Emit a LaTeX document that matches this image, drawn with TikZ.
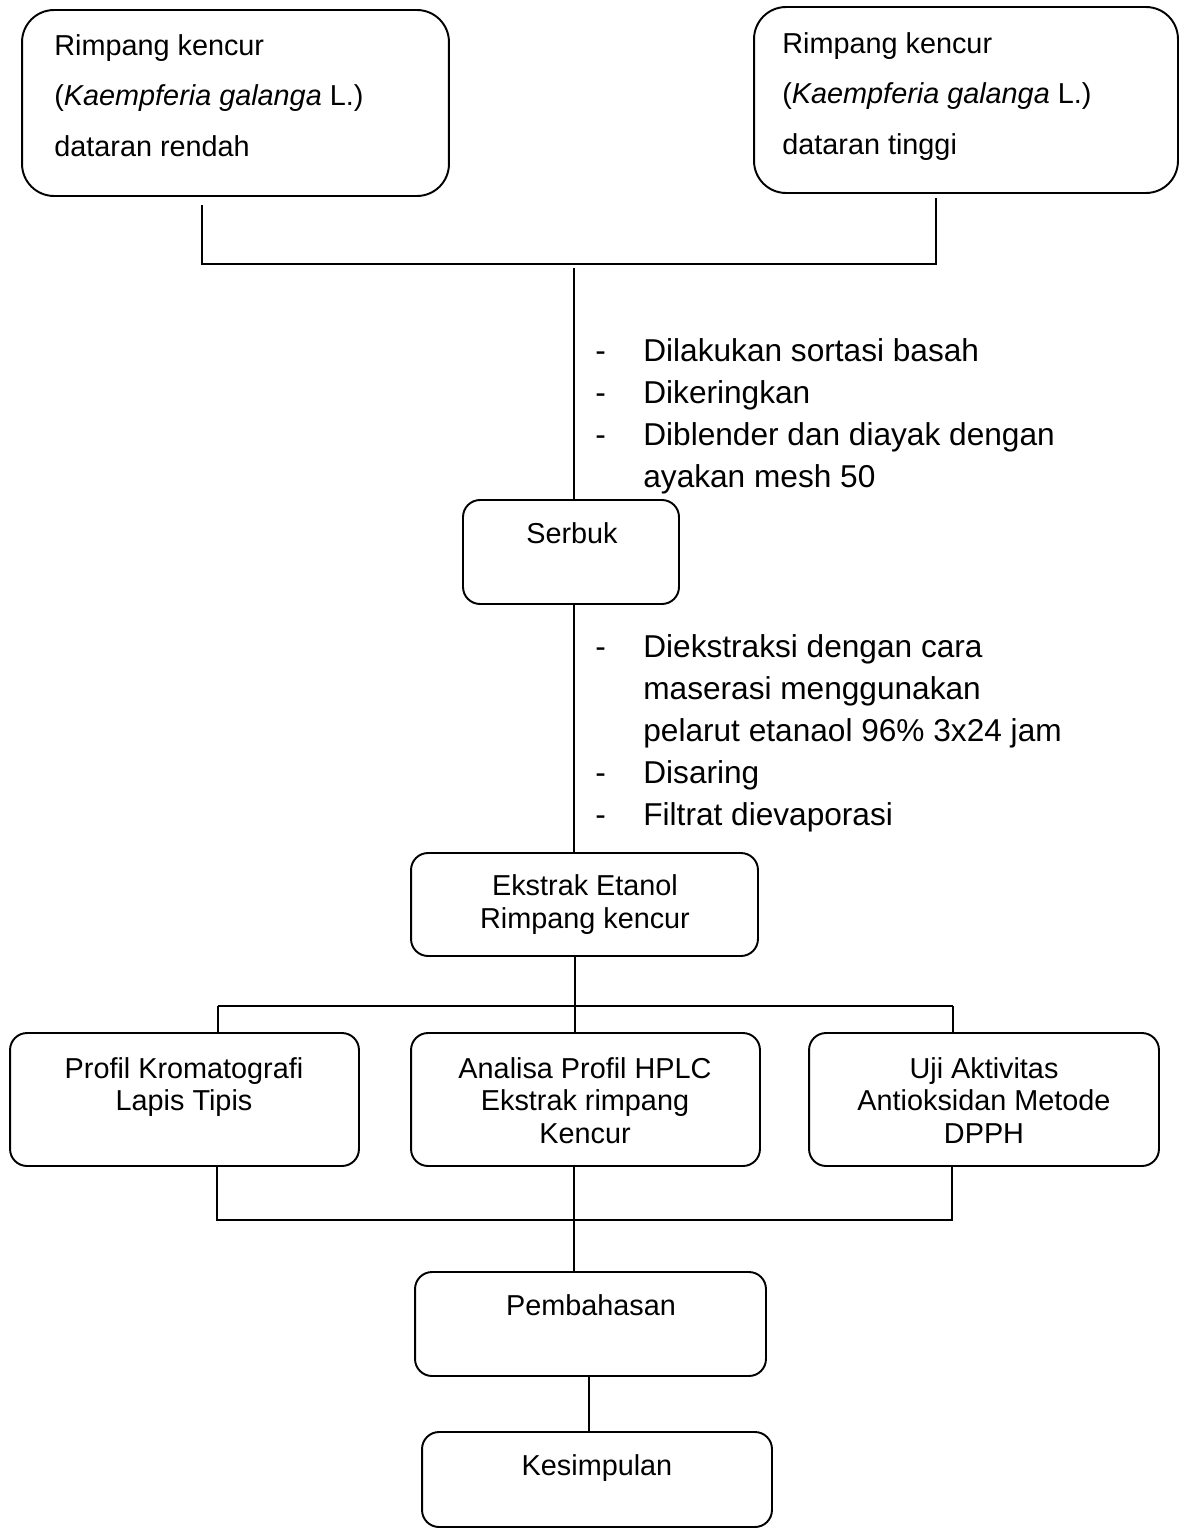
\documentclass[tikz,border=0pt]{standalone}
\usepackage{fontspec}
\setmainfont{Liberation Sans}
\usepackage{tikz}

\tikzset{
  roundbox/.style={draw, line width=1.1pt, rounded corners=0.34cm, inner sep=0pt},
  boxtxt/.style={font=\fontsize{16.4}{20}\selectfont, inner sep=0pt, anchor=base},
  steptxt/.style={font=\fontsize{18}{22}\selectfont, inner sep=0pt, anchor=base west},
  link/.style={line width=1pt}
}

\begin{document}
\begin{tikzpicture}[x=0.02cm, y=-0.02cm]
\useasboundingbox (0,0) rectangle (1181,1528);

% Bahan awal
\node[roundbox, rounded corners=0.64cm, minimum width=8.54cm, minimum height=3.72cm] (rendah) at (235.5,103) {};
\node[roundbox, rounded corners=0.64cm, minimum width=8.48cm, minimum height=3.72cm] (tinggi) at (966,100) {};
\foreach \txt [count=\i] in {Rimpang kencur, {(\textit{Kaempferia galanga} L.)}, dataran rendah} {
    \node[boxtxt, anchor=base west] (rendah\i) at (54,{55+50.5*(\i-1)}) {\txt};
}
\foreach \txt [count=\i] in {Rimpang kencur, {(\textit{Kaempferia galanga} L.)}, dataran tinggi} {
    \node[boxtxt, anchor=base west] (tinggi\i) at (782,{53+50.5*(\i-1)}) {\txt};
}

% Proses
\node[roundbox, minimum width=4.32cm, minimum height=2.08cm] (serbuk) at (571,552) {};
\node[boxtxt] (serbukT) at (572,543) {Serbuk};

\node[roundbox, minimum width=6.94cm, minimum height=2.06cm] (ekstrak) at (584.5,904.5) {};
\node[boxtxt] (ekstrak1) at (585,895) {Ekstrak Etanol};
\node[boxtxt] (ekstrak2) at (585,928) {Rimpang kencur};

% Langkah-langkah
\foreach \txt/\y [count=\i] in {Dilakukan sortasi basah/361, Dikeringkan/403, Diblender dan diayak dengan/445} {
    \node[steptxt] (dashA\i) at (595,\y) {-};
    \node[steptxt] (stepA\i) at (643,\y) {\txt};
}
\node[steptxt] (stepA4) at (643,487) {ayakan mesh 50};

\foreach \txt/\y [count=\i] in {Diekstraksi dengan cara/657, Disaring/783, Filtrat dievaporasi/825} {
    \node[steptxt] (dashB\i) at (595,\y) {-};
}
\node[steptxt] (stepB1) at (643,657) {Diekstraksi dengan cara};
\node[steptxt] (stepB2) at (643,699) {maserasi menggunakan};
\node[steptxt] (stepB3) at (643,741) {pelarut etanaol 96\% 3x24 jam};
\node[steptxt] (stepB4) at (643,783) {Disaring};
\node[steptxt] (stepB5) at (643,825) {Filtrat dievaporasi};

% Analisis
\node[roundbox, minimum width=6.98cm, minimum height=2.66cm] (klt) at (184.5,1099.5) {};
\node[roundbox, minimum width=6.98cm, minimum height=2.66cm] (hplc) at (585.5,1099.5) {};
\node[roundbox, minimum width=7.0cm, minimum height=2.66cm] (uji) at (984,1099.5) {};
\node[boxtxt] (klt1) at (184,1078) {Profil Kromatografi};
\node[boxtxt] (klt2) at (184,1110.5) {Lapis Tipis};
\node[boxtxt] (hplc1) at (585,1078) {Analisa Profil HPLC};
\node[boxtxt] (hplc2) at (585,1110.5) {Ekstrak rimpang};
\node[boxtxt] (hplc3) at (585,1143) {Kencur};
\node[boxtxt] (uji1) at (984,1078) {Uji Aktivitas};
\node[boxtxt] (uji2) at (984,1110.5) {Antioksidan Metode};
\node[boxtxt] (uji3) at (984,1143) {DPPH};

% Hasil
\node[roundbox, minimum width=7.02cm, minimum height=2.08cm] (bahas) at (590.5,1324) {};
\node[boxtxt] (bahasT) at (591,1315) {Pembahasan};
\node[roundbox, minimum width=7.0cm, minimum height=1.9cm] (simpul) at (597,1479.5) {};
\node[boxtxt] (simpulT) at (597,1475) {Kesimpulan};

% Garis penghubung
\coordinate (kiri) at (202,264);
\coordinate (kanan) at (936,264);
\coordinate (tengah) at (574,264);
\draw[link] ([yshift=-0.16cm]rendah.south -| kiri) -- (kiri) -- (kanan) -- ([yshift=-0.08cm]tinggi.south -| kanan);
\draw[link] ([yshift=-0.08cm]tengah) -- (serbuk.north -| tengah);
\draw[link] (serbuk.south -| tengah) -- (ekstrak.north -| tengah);

\coordinate (cabangL) at (218,1006);
\coordinate (cabang) at (575,1006);
\coordinate (cabangR) at (953,1006);
\draw[link] (ekstrak.south -| cabang) -- (cabang);
\draw[link] (cabangL) -- (cabangR);
\draw[link] (cabangL) -- (klt.north -| cabangL);
\draw[link] (cabang) -- (hplc.north -| cabang);
\draw[link] (cabangR) -- (uji.north -| cabangR);

\coordinate (gabungL) at (217,1220);
\coordinate (gabung) at (574,1220);
\coordinate (gabungR) at (952,1220);
\draw[link] (klt.south -| gabungL) -- (gabungL) -- (gabungR) -- (uji.south -| gabungR);
\draw[link] (hplc.south -| gabung) -- (bahas.north -| gabung);

\coordinate (akhir) at (589,1400);
\draw[link] (bahas.south -| akhir) -- (simpul.north -| akhir);

\end{tikzpicture}
\end{document}
